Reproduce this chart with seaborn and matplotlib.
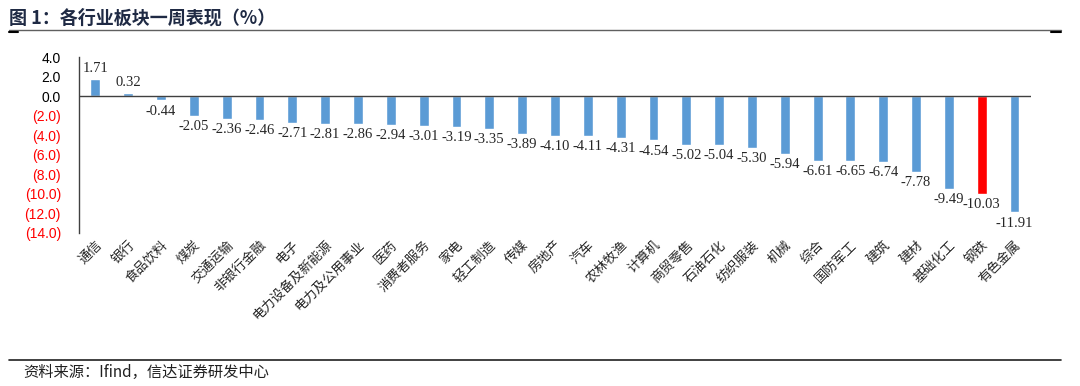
import matplotlib
matplotlib.use("Agg")
import matplotlib.pyplot as plt
import seaborn as sns
import pandas as pd

categories = ["通信", "银行", "食品饮料", "煤炭", "交通运输", "非银行金融", "电子",
              "电力设备及新能源", "电力及公用事业", "医药", "消费者服务", "家电", "轻工制造",
              "传媒", "房地产", "汽车", "农林牧渔", "计算机", "商贸零售", "石油石化",
              "纺织服装", "机械", "综合", "国防军工", "建筑", "建材", "基础化工", "钢铁", "有色金属"]
values = [1.71, 0.32, -0.44, -2.05, -2.36, -2.46, -2.71, -2.81, -2.86, -2.94, -3.01, -3.19,
          -3.35, -3.89, -4.10, -4.11, -4.31, -4.54, -5.02, -5.04, -5.30, -5.94, -6.61, -6.65,
          -6.74, -7.78, -9.49, -10.03, -11.91]
highlight = "钢铁"
yticks = [4, 2, 0, -2, -4, -6, -8, -10, -12, -14]

sns.set_theme(style="white")
plt.rcParams['font.family'] = ['Noto Sans CJK SC', 'DejaVu Sans']

df = pd.DataFrame({"cat": categories, "val": values})
palette = {c: ("#FF0000" if c == highlight else "#5B9BD5") for c in categories}

fig = plt.figure(figsize=(10.8, 3.86), dpi=100)
ax = fig.add_axes([0.0731, 0.397, 0.8815, 0.455])
sns.barplot(data=df, x="cat", y="val", hue="cat", palette=palette, legend=False,
            width=0.3, ax=ax, saturation=1)

ax.set_xlim(-0.5, len(categories) - 0.5)
ax.set_ylim(-14, 4)
ax.set_yticks(yticks)
ylabels = [f"{v:.1f}" if v >= 0 else f"({-v:.1f})" for v in yticks]
ax.set_yticklabels(ylabels, family=['Liberation Sans'], fontsize=10)
for lbl, v in zip(ax.get_yticklabels(), yticks):
    lbl.set_color("#FF0000" if v < 0 else "#000000")
ax.tick_params(axis='y', length=0, pad=13)
ax.tick_params(axis='x', length=0, pad=4)
ax.set_xticks(range(len(categories)))
ax.set_xticklabels(categories, rotation=45, ha='right', rotation_mode='anchor', fontsize=9.5)
ax.set_xlabel("")
ax.set_ylabel("")
for s in ["top", "right", "bottom"]:
    ax.spines[s].set_visible(False)
ax.spines["left"].set_color("#404040")
ax.spines["left"].set_linewidth(1.0)
ax.axhline(0, color="#404040", lw=1.0, zorder=3)

for i, v in enumerate(values):
    if v >= 0:
        ax.annotate(f"{v:.2f}", (i, v), xytext=(0, 3), textcoords="offset points",
                    ha='center', va='bottom', family=['Liberation Serif'], fontsize=10.5)
    else:
        ax.annotate(f"{v:.2f}", (i, v), xytext=(0, -3), textcoords="offset points",
                    ha='center', va='top', family=['Liberation Serif'], fontsize=10.5)

fig.text(0.008, 0.953, "图 1：各行业板块一周表现（%）", fontsize=13, fontweight='bold',
         color="#1F2A44", ha='left', va='center')
fig.add_artist(plt.Line2D([0.008, 0.982], [0.921, 0.921], color="#606060", lw=1.0,
                          transform=fig.transFigure))
fig.add_artist(plt.Line2D([0.008, 0.017], [0.917, 0.917], color="#000000", lw=1.5,
                          transform=fig.transFigure))
fig.add_artist(plt.Line2D([0.973, 0.982], [0.917, 0.917], color="#000000", lw=1.5,
                          transform=fig.transFigure))
fig.add_artist(plt.Line2D([0.008, 0.982], [0.068, 0.068], color="#202020", lw=1.2,
                          transform=fig.transFigure))
fig.text(0.022, 0.035, "资料来源：Ifind，信达证券研发中心", fontsize=11, style='italic',
         ha='left', va='center', color="#202020")

fig.savefig("out.png", dpi=100)
